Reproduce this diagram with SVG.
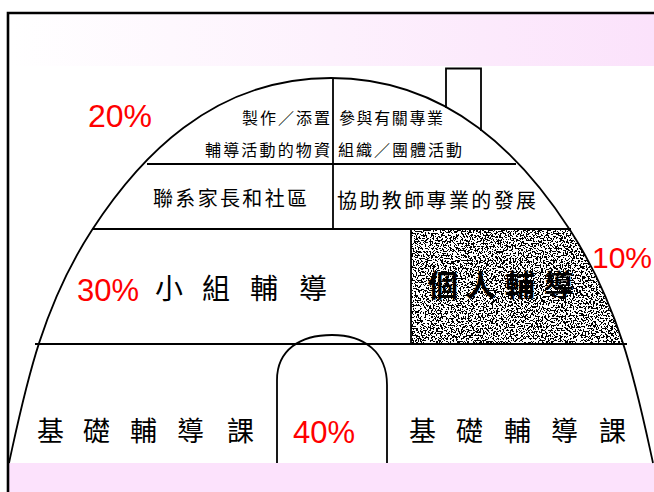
<svg xmlns="http://www.w3.org/2000/svg" width="654" height="492" viewBox="0 0 654 492">
<style>
.ln{stroke:#000;stroke-width:1.8;fill:none}
.cjk{font-family:"Noto Sans CJK TC","Noto Sans CJK SC",sans-serif;fill:#000}
.pct{font-family:"Liberation Sans",Arial,sans-serif;fill:#ff0000}
</style>
<defs>
<linearGradient id="topband" x1="0" y1="0" x2="1" y2="0">
<stop offset="0" stop-color="#ffffff"/>
<stop offset="0.5" stop-color="#fdf1fd"/>
<stop offset="1" stop-color="#fbe2fb"/>
</linearGradient>
<clipPath id="domeClip">
<path d="M9,463 C24.4,393 40,310 92,230 C137.5,160 211,78 331,78 C451,78 524.5,160 570,230 C622,310 637.6,393 653,463 Z"/>
</clipPath>
<filter id="speckle" x="0" y="0" width="1" height="1">
<feTurbulence type="fractalNoise" baseFrequency="0.6" numOctaves="2" seed="7" result="n"/>
<feColorMatrix in="n" type="matrix" values="0 0 0 0 0  0 0 0 0 0  0 0 0 0 0  4 0 0 0 -1.62" result="a"/>
<feComponentTransfer in="a"><feFuncA type="discrete" tableValues="0 1"/></feComponentTransfer>
</filter>
</defs>
<rect x="0" y="0" width="654" height="492" fill="#fff"/>
<rect x="9" y="14" width="645" height="52" fill="url(#topband)"/>
<rect x="9" y="463" width="645" height="29" fill="#fce2fc"/>
<path d="M8,492 V13 H654" stroke="#000" stroke-width="2.6" fill="none"/>

<g id="shade-individual">
<g clip-path="url(#domeClip)">
<rect x="411" y="229" width="243" height="115" fill="#fff"/>
<rect x="411" y="229" width="243" height="115" fill="#000" filter="url(#speckle)"/>
</g>
</g>

<g id="connectors">
<path class="ln" d="M9,463 C24.4,393 40,310 92,230 C137.5,160 211,78 331,78 C451,78 524.5,160 570,230 C622,310 637.6,393 653,463"/>
<path class="ln" d="M446,108 V68.5 H481 V131"/>
<line class="ln" x1="333" y1="78" x2="333" y2="229"/>
<line class="ln" x1="147" y1="164" x2="516" y2="164"/>
<line class="ln" x1="92" y1="229" x2="571" y2="229"/>
<line class="ln" x1="411" y1="229" x2="411" y2="344"/>
<line class="ln" x1="35" y1="344" x2="627" y2="344"/>
<path class="ln" d="M277,463 V380 C277,350 300,335 332,335 C364,335 387,352 387,385 V463" fill="#fff"/>
</g>

<g id="node-materials">
<text class="cjk" x="242" y="124" font-size="16" textLength="88" lengthAdjust="spacing">製作／添置</text>
<text class="cjk" x="205" y="156" font-size="16" textLength="125" lengthAdjust="spacing">輔導活動的物資</text>
</g>
<g id="node-organizations">
<text class="cjk" x="339" y="124" font-size="16" textLength="104" lengthAdjust="spacing">參與有關專業</text>
<text class="cjk" x="338" y="156" font-size="16" textLength="124" lengthAdjust="spacing">組織／團體活動</text>
</g>
<g id="node-parents">
<text class="cjk" x="153" y="205.5" font-size="20" textLength="154" lengthAdjust="spacing">聯系家長和社區</text>
</g>
<g id="node-teachers">
<text class="cjk" x="337" y="207.5" font-size="20" textLength="199" lengthAdjust="spacing">協助教師專業的發展</text>
</g>
<g id="node-group">
<text class="cjk" x="155 202 250 299" y="298.5" font-size="28">小組輔導</text>
</g>
<g id="node-individual">
<text class="cjk" x="428 466 505 544" y="296" font-size="30" font-weight="bold">個人輔導</text>
</g>
<g id="node-basic-left">
<text class="cjk" x="37 83 130 177 227" y="440.5" font-size="27">基礎輔導課</text>
</g>
<g id="node-basic-right">
<text class="cjk" x="409 456 504 551 599" y="440.5" font-size="27">基礎輔導課</text>
</g>
<g id="percentages">
<text class="pct" x="88" y="127" font-size="32">20%</text>
<text class="pct" x="77" y="301" font-size="31">30%</text>
<text class="pct" x="592" y="268" font-size="30">10%</text>
<text class="pct" x="293" y="443" font-size="31">40%</text>
</g>
</svg>
